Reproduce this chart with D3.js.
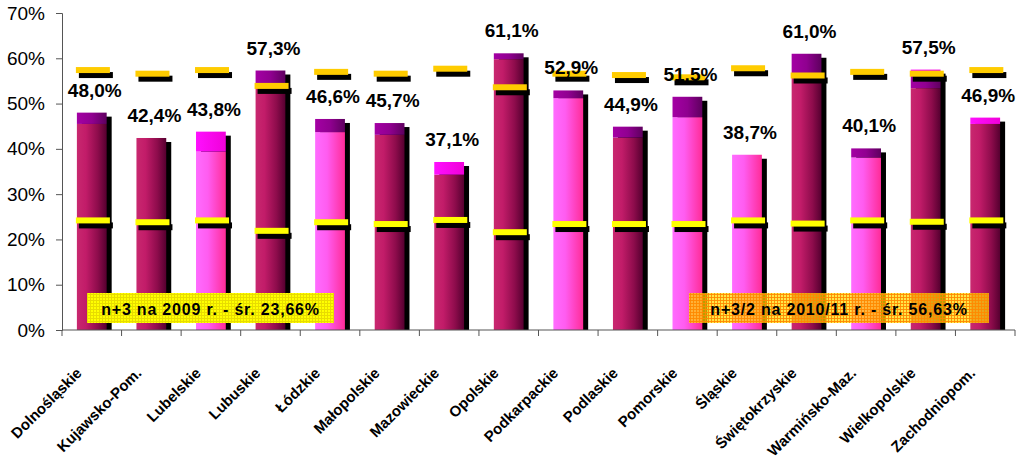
<!DOCTYPE html>
<html><head><meta charset="utf-8">
<script src="https://cdn.jsdelivr.net/npm/d3@7"></script>
<style>
html,body{margin:0;padding:0;background:#fff;}
svg{display:block;font-family:"Liberation Sans",Arial,sans-serif;}
</style></head>
<body><svg id="c" width="1024" height="462"></svg>
<script>
const categories = ["Dolnośląskie","Kujawsko-Pom.","Lubelskie","Lubuskie","Łódzkie","Małopolskie","Mazowieckie","Opolskie","Podkarpackie","Podlaskie","Pomorskie","Śląskie","Świętokrzyskie","Warmińsko-Maz.","Wielkopolskie","Zachodniopom."];
const totalLabels = [48.0,42.4,43.8,57.3,46.6,45.7,37.1,61.1,52.9,44.9,51.5,38.7,61.0,40.1,57.5,46.9];
const baseValues = [45.5,42.4,39.4,54.3,43.7,43.1,34.3,59.8,51.2,42.5,47.0,38.7,56.0,38.1,53.4,45.5];
const baseKind = ["dark","dark","light","dark","light","dark","dark","dark","light","dark","light","light","dark","light","dark","dark"];
const purpleValues = [2.5,0,0,3.0,2.9,2.6,0,1.3,1.7,2.4,4.5,0,5.0,2.0,3.8,0];
const magentaValues = [0,0,4.4,0,0,0,2.8,0,0,0,0,0,0,0,0.3,1.4];
const mean2009 = [24.2,23.8,24.2,21.9,23.8,23.4,24.3,21.6,23.4,23.4,23.4,24.2,23.5,24.2,23.9,24.2];
const mean2010 = [57.4,56.6,57.4,53.9,57.0,56.6,57.7,53.6,56.6,56.3,55.8,57.8,56.2,57.0,56.6,57.4];
const yTicks = [0,10,20,30,40,50,60,70];
const legend2009 = "n+3 na 2009 r. - śr. 23,66%";
const legend2010 = "n+3/2 na 2010/11 r. - śr. 56,63%";

const svg = d3.select("#c");
const defs = svg.append("defs");
function grad(id, stops){
  const g = defs.append("linearGradient").attr("id",id).attr("x1","0").attr("x2","1").attr("y1","0").attr("y2","0");
  stops.forEach(s=>g.append("stop").attr("offset",s[0]).attr("stop-color",s[1]));
}
grad("gDark",[["0%","#c8286f"],["30%","#c21c69"],["70%","#8e0c4c"],["100%","#560030"]]);
grad("gLight",[["0%","#ff6cff"],["40%","#ff5cf0"],["100%","#ff2c98"]]);
grad("gPurple",[["0%","#a400a4"],["50%","#900090"],["100%","#5e005e"]]);
grad("gMag",[["0%","#ff10ff"],["100%","#f000d8"]]);

const p1 = defs.append("pattern").attr("id","pY").attr("width",3).attr("height",3).attr("patternUnits","userSpaceOnUse");
p1.append("rect").attr("width",3).attr("height",3).attr("fill","#ffff00");
p1.append("rect").attr("width",3).attr("height",1).attr("fill","#e8dc00");
p1.append("rect").attr("width",1).attr("height",3).attr("fill","#e8dc00");
const p2 = defs.append("pattern").attr("id","pO").attr("width",3).attr("height",3).attr("patternUnits","userSpaceOnUse");
p2.append("rect").attr("width",3).attr("height",3).attr("fill","rgba(255,220,0,0.72)");
p2.append("rect").attr("width",3).attr("height",1).attr("fill","rgba(255,136,0,0.9)");
p2.append("rect").attr("width",1).attr("height",3).attr("fill","rgba(255,136,0,0.9)");

const x = d3.scaleBand().domain(categories).range([62,1015]).paddingInner(0.5).paddingOuter(0.25);
const y = d3.scaleLinear().domain([0,70]).range([330,13]);
const bw = x.bandwidth();

const data = categories.map((c,i)=>({c,i,total:totalLabels[i],base:baseValues[i],kind:baseKind[i],pur:purpleValues[i],mag:magentaValues[i],m1:mean2009[i],m2:mean2010[i]}));

const g = svg.append("g");
g.selectAll(".sh").data(data).join("rect")
  .attr("x",d=>x(d.c)+5).attr("y",d=>y(d.base+d.pur+d.mag)+4)
  .attr("width",bw).attr("height",d=>y(0)-y(d.base+d.pur+d.mag)-4).attr("fill","#000");
g.selectAll(".b").data(data).join("rect")
  .attr("x",d=>x(d.c)).attr("y",d=>y(d.base)).attr("width",bw)
  .attr("height",d=>y(0)-y(d.base)).attr("fill",d=>d.kind==="dark"?"url(#gDark)":"url(#gLight)");
g.selectAll(".p").data(data.filter(d=>d.pur>0)).join("rect")
  .attr("x",d=>x(d.c)).attr("y",d=>y(d.base+d.pur)).attr("width",bw)
  .attr("height",d=>y(d.base)-y(d.base+d.pur)).attr("fill","url(#gPurple)");
g.selectAll(".m").data(data.filter(d=>d.mag>0)).join("rect")
  .attr("x",d=>x(d.c)).attr("y",d=>y(d.base+d.pur+d.mag)).attr("width",bw)
  .attr("height",d=>y(d.base+d.pur)-y(d.base+d.pur+d.mag)).attr("fill","url(#gMag)");

function markers(key,color){
  g.selectAll(".ms"+key).data(data).join("rect")
    .attr("x",d=>x(d.c)+2).attr("y",d=>y(d[key])-3+5).attr("width",34).attr("height",6).attr("fill","#000");
  g.selectAll(".mk"+key).data(data).join("rect")
    .attr("x",d=>x(d.c)-1).attr("y",d=>y(d[key])-3).attr("width",34).attr("height",6).attr("fill",color);
}
markers("m1","#ffff00");
markers("m2","#ffcc00");

const ya = svg.append("g").attr("transform","translate(62,0)")
  .call(d3.axisLeft(y).tickValues(yTicks).tickFormat(d=>d+"%").tickSize(6).tickPadding(11));
ya.select(".domain").attr("stroke","#555");
ya.selectAll(".tick line").attr("stroke","#555");
ya.selectAll("text").attr("font-size","19px").attr("fill","#000").attr("font-family","Liberation Sans, Arial, sans-serif");

svg.append("line").attr("x1",62).attr("x2",1015).attr("y1",y(0)).attr("y2",y(0)).attr("stroke","#555");
const bounds = categories.map(c=>x(c)-x.step()*0.25).concat([1015]);
svg.selectAll(".xt").data(bounds).join("line")
  .attr("x1",d=>d).attr("x2",d=>d).attr("y1",y(0)).attr("y2",y(0)+6).attr("stroke","#555");

svg.selectAll(".xl").data(categories).join("text")
  .attr("transform",c=>`translate(${x(c)+bw/2-9},374) rotate(-45)`)
  .attr("text-anchor","end").attr("font-size","15px").attr("font-weight","bold").attr("fill","#000")
  .text(c=>c);

svg.selectAll(".vl").data(data).join("text")
  .attr("x",d=>x(d.c)+bw/2+3).attr("y",d=>y(d.total)-16)
  .attr("text-anchor","middle").attr("font-size","19px").attr("font-weight","bold").attr("fill","#000")
  .text(d=>d3.format(".1f")(d.total).replace(".",",")+"%");

function box(x0,x1,fill,txt){
  svg.append("rect").attr("x",x0).attr("y",293).attr("width",x1-x0).attr("height",30).attr("fill",fill);
  svg.append("text").attr("x",(x0+x1)/2).attr("y",314.5).attr("text-anchor","middle")
    .attr("font-size","16px").attr("font-weight","bold").attr("letter-spacing","0.8px").attr("fill","#000").text(txt);
}
box(87,334,"url(#pY)",legend2009);
box(689,989,"url(#pO)",legend2010);
</script></body></html>
